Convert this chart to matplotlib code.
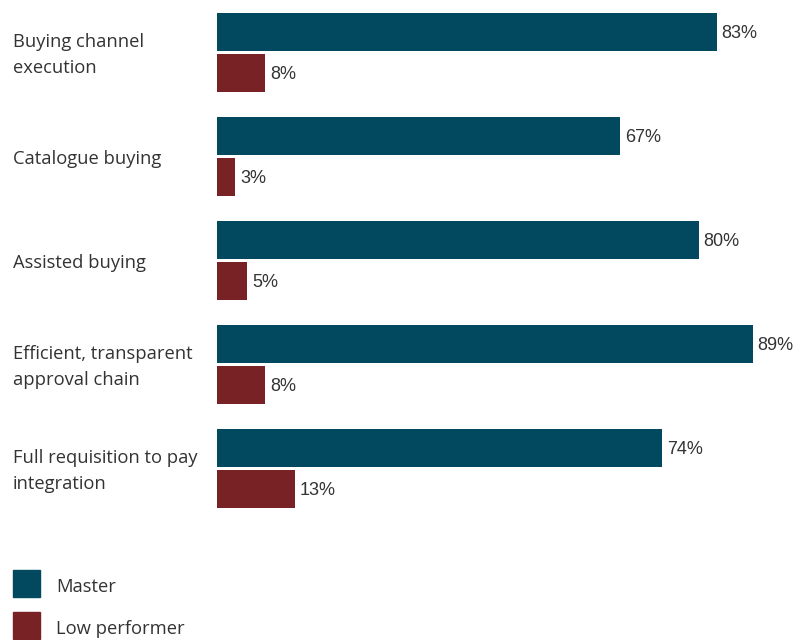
import matplotlib
matplotlib.use("Agg")
import matplotlib.pyplot as plt
from matplotlib.patches import Rectangle
from matplotlib import font_manager as fm

categories = ["Buying channel\nexecution", "Catalogue buying", "Assisted buying",
              "Efficient, transparent\napproval chain", "Full requisition to pay\nintegration"]
master = [83, 67, 80, 89, 74]
low = [8, 3, 5, 8, 13]
series_names = ["Master", "Low performer"]
colors = ["#02495F", "#782226"]

names = {f.name for f in fm.fontManager.ttflist}
label_font = "Open Sans" if "Open Sans" in names else "DejaVu Sans"
value_font = "Liberation Sans Narrow" if "Liberation Sans Narrow" in names else "Liberation Sans"
text_color = "#333333"

W, H = 801, 640
fig = plt.figure(figsize=(W / 100, H / 100), dpi=100)
ax = fig.add_axes([217 / W, 120 / H, 1 - 217 / W, 520 / H])

off = 0.197
h = 0.365
n = len(categories)
ys = list(range(n))
ax.barh([y - off for y in ys], master, height=h, color=colors[0])
ax.barh([y + off for y in ys], low, height=h, color=colors[1])

dy = 0.015
for y, v in zip(ys, master):
    ax.text(v + 0.8, y - off + dy, f"{v}%", va="center", ha="left", fontsize=13,
            family=value_font, color=text_color)
for y, v in zip(ys, low):
    ax.text(v + 0.8, y + off + dy, f"{v}%", va="center", ha="left", fontsize=13,
            family=value_font, color=text_color)

ax.set_xlim(0, (W - 217) / 6.02)
ax.set_ylim(4.495, -0.505)
ax.axis("off")

# category labels in figure coordinates, aligned with groups
for y, c in zip(ys, categories):
    yd = ax.transData.transform((0, y))[1] - 2.5
    yf = fig.transFigure.inverted().transform((0, yd))[1]
    fig.text(13 / W, yf, c, ha="left", va="center", fontsize=13.2, family=label_font,
             color=text_color, linespacing=1.6)

# legend
for i, (name, col) in enumerate(zip(series_names, colors)):
    top = 570 + 42 * i
    fig.add_artist(Rectangle((13 / W, 1 - (top + 27) / H), 27 / W, 27 / H,
                             transform=fig.transFigure, color=col))
    fig.text(56 / W, 1 - (top + 16.5) / H, name, ha="left", va="center", fontsize=13.2,
             family=label_font, color=text_color)

fig.savefig("out.png", dpi=100)
